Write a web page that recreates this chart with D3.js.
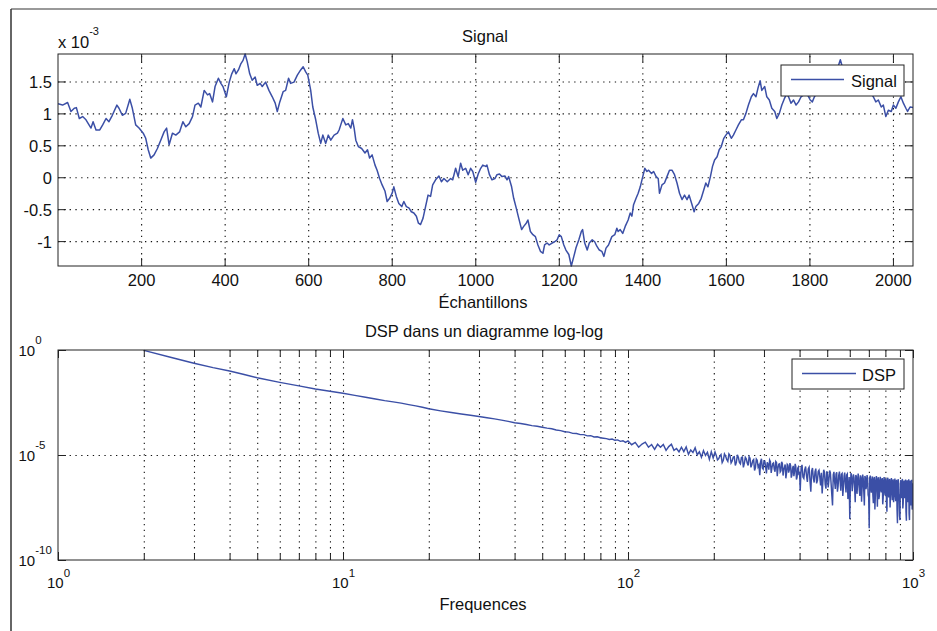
<!DOCTYPE html>
<html><head><meta charset="utf-8">
<script src="https://cdn.jsdelivr.net/npm/d3@7"></script>
<style>
body{margin:0;background:#fff;}
svg{display:block;font-family:"Liberation Sans",Arial,Helvetica,sans-serif;}
</style></head><body>
<svg id="chart" width="937" height="631"></svg>
<script>
// ---------- data ----------
const signalTitle = "Signal";
const signalXLabel = "Échantillons";
const signalLegend = "Signal";
const signalXTicks = [200,400,600,800,1000,1200,1400,1600,1800,2000];
const signalYTicks = [-1,-0.5,0,0.5,1,1.5];
const signalExponent = "-3";
// [sample index, value x 10^-3]
const signal = [
[1,1.15],[12,1.13],[24,1.17],[32,1.03],[40,1.08],[45,1.09],[52,0.92],[60,0.95],[68,0.90],[80,0.77],[85,0.87],[92,0.74],[101,0.74],[108,0.82],[116,0.92],[123,0.87],[131,0.97],[142,1.13],[147,1.08],[155,0.97],[163,1.0],[173,1.22],[179,1.08],[187,0.82],[195,0.77],[205,0.69],[211,0.61],[217,0.43],[223,0.30],[231,0.35],[239,0.45],[247,0.58],[255,0.71],[261,0.77],[267,0.51],[275,0.69],[283,0.66],[292,0.71],[300,0.87],[307,0.79],[315,0.84],[323,0.95],[329,1.13],[337,1.16],[343,1.10],[351,1.36],[359,1.29],[364,1.31],[371,1.18],[377,1.42],[385,1.55],[391,1.47],[396,1.42],[404,1.26],[411,1.49],[417,1.62],[423,1.70],[427,1.62],[433,1.68],[439,1.78],[444,1.83],[449,1.93],[454,1.81],[460,1.62],[466,1.52],[473,1.57],[478,1.44],[485,1.47],[490,1.42],[498,1.49],[506,1.36],[514,1.26],[521,1.16],[526,1.03],[532,1.18],[540,1.34],[546,1.36],[553,1.55],[558,1.47],[566,1.49],[574,1.60],[582,1.68],[588,1.73],[594,1.65],[599,1.60],[606,1.36],[611,1.10],[618,0.90],[624,0.69],[630,0.53],[635,0.66],[642,0.53],[648,0.66],[654,0.58],[662,0.66],[670,0.69],[674,0.74],[678,0.82],[683,0.92],[690,0.82],[696,0.84],[702,0.77],[706,0.90],[710,0.77],[714,0.58],[720,0.48],[728,0.45],[736,0.38],[742,0.43],[747,0.30],[753,0.35],[760,0.19],[765,0.11],[771,-0.02],[777,-0.12],[784,-0.22],[789,-0.38],[795,-0.33],[801,-0.25],[805,-0.15],[811,-0.30],[817,-0.41],[824,-0.46],[829,-0.38],[835,-0.46],[841,-0.48],[847,-0.54],[853,-0.56],[859,-0.61],[864,-0.72],[869,-0.74],[875,-0.64],[881,-0.46],[887,-0.28],[893,-0.30],[898,-0.12],[905,-0.04],[913,0.02],[919,-0.07],[925,-0.02],[933,-0.07],[941,-0.02],[946,-0.04],[953,0.14],[959,0.01],[965,0.22],[970,0.11],[977,0.14],[983,0.04],[989,0.14],[994,0.09],[1001,-0.08],[1007,0.05],[1013,0.14],[1018,0.19],[1025,0.17],[1028,0.19],[1034,0.04],[1040,-0.04],[1047,-0.02],[1052,0.04],[1058,0.05],[1064,0.01],[1071,0.02],[1076,-0.04],[1080,0.01],[1087,-0.15],[1092,-0.33],[1098,-0.48],[1104,-0.64],[1111,-0.82],[1116,-0.77],[1122,-0.72],[1126,-0.67],[1132,-0.85],[1138,-0.90],[1144,-0.93],[1150,-1.06],[1156,-1.16],[1162,-1.19],[1166,-1.06],[1172,-1.03],[1177,-1.06],[1184,-1.03],[1190,-1.01],[1196,-0.98],[1201,-0.90],[1206,-0.93],[1212,-1.06],[1217,-1.14],[1224,-1.21],[1230,-1.39],[1236,-1.24],[1241,-1.11],[1248,-0.98],[1254,-0.85],[1257,-0.82],[1262,-1.03],[1268,-1.14],[1273,-1.03],[1280,-0.98],[1286,-1.01],[1291,-1.08],[1297,-1.14],[1303,-1.16],[1308,-1.24],[1313,-1.11],[1319,-1.06],[1327,-0.93],[1334,-0.90],[1339,-0.80],[1342,-0.85],[1347,-0.82],[1353,-0.88],[1359,-0.77],[1366,-0.67],[1371,-0.56],[1375,-0.61],[1379,-0.43],[1385,-0.33],[1390,-0.25],[1395,-0.15],[1401,0.01],[1406,0.14],[1411,0.09],[1415,0.11],[1422,0.06],[1427,0.09],[1433,0.01],[1438,-0.02],[1441,-0.25],[1447,-0.12],[1453,-0.09],[1459,0.01],[1465,0.11],[1471,0.11],[1477,0.04],[1483,-0.09],[1489,-0.25],[1495,-0.35],[1501,-0.28],[1507,-0.35],[1512,-0.28],[1519,-0.43],[1524,-0.54],[1528,-0.46],[1535,-0.41],[1541,-0.33],[1547,-0.20],[1552,-0.09],[1557,-0.15],[1563,0.01],[1568,0.17],[1573,0.27],[1579,0.32],[1584,0.43],[1589,0.48],[1595,0.61],[1600,0.66],[1606,0.71],[1613,0.61],[1618,0.66],[1624,0.74],[1630,0.82],[1637,0.90],[1642,0.90],[1648,1.0],[1654,1.13],[1661,1.26],[1666,1.31],[1672,1.26],[1677,1.40],[1682,1.51],[1686,1.36],[1693,1.42],[1698,1.26],[1704,1.21],[1710,1.08],[1717,1.03],[1722,0.92],[1728,1.0],[1734,1.13],[1740,1.23],[1746,1.31],[1750,1.26],[1756,1.16],[1762,1.21],[1768,1.13],[1774,1.18],[1780,1.26],[1786,1.29],[1794,1.31],[1802,1.21],[1807,1.18],[1812,1.26],[1820,1.35],[1830,1.45],[1840,1.40],[1850,1.55],[1860,1.65],[1868,1.72],[1874,1.84],[1880,1.70],[1890,1.62],[1900,1.58],[1910,1.52],[1920,1.50],[1930,1.44],[1940,1.38],[1948,1.32],[1953,1.26],[1959,1.18],[1965,1.21],[1972,1.10],[1977,1.13],[1983,0.95],[1989,1.05],[1996,1.03],[2001,1.13],[2007,1.08],[2013,1.18],[2019,1.26],[2025,1.16],[2031,1.08],[2035,1.03],[2041,1.10],[2048,1.09]
];

const dspTitle = "DSP dans un diagramme log-log";
const dspXLabel = "Frequences";
const dspLegend = "DSP";
const dspXDomain = [1,1000];
const dspYDomain = [1e-10,1];
const dspXMajorTicks = [1,10,100,1000];
const dspYTicks = [1e-10,1e-5,1];
// [frequency, log10(PSD)]
const dspLow = [
[2,-0.02],[2.5,-0.36],[3,-0.63],[3.5,-0.84],[4,-1.0],[4.5,-1.17],[5,-1.32],[6,-1.54],[7,-1.71],[8,-1.86],[9,-1.96],[10,-2.06],[11,-2.16],[12,-2.25],[13,-2.33],[14,-2.41],[15,-2.47],[16,-2.53],[17,-2.6],[18,-2.66],[19,-2.73],[20,-2.8],[22,-2.9],[24,-2.98],[26,-3.05],[28,-3.11],[30,-3.17],[32,-3.23],[34,-3.28],[36,-3.34],[38,-3.40],[40,-3.46],[42,-3.5],[44,-3.55],[46,-3.6],[48,-3.63],[50,-3.68],[52,-3.72],[54,-3.75],[56,-3.81],[58,-3.84],[60,-3.89],[62,-3.91],[64,-3.97],[66,-3.98],[68,-4.03],[70,-4.03],[72,-4.09],[74,-4.08],[76,-4.14],[78,-4.13],[80,-4.18],[82,-4.2],[84,-4.22],[86,-4.26],[88,-4.24],[90,-4.3],[92,-4.28],[94,-4.35],[96,-4.32],[98,-4.4]
];
const dspMid = [
[100,-4.33],[103,-4.51],[106,-4.40],[109,-4.63],[112,-4.48],[115,-4.39],[118,-4.63],[121,-4.50],[124,-4.73],[127,-4.49],[130,-4.63],[133,-4.50],[136,-4.78],[139,-4.60],[142,-4.49],[145,-4.78],[148,-4.69],[151,-4.85],[154,-4.63],[157,-4.84],[160,-4.62],[163,-4.97],[166,-4.76],[169,-4.88],[172,-4.66],[175,-4.99],[178,-4.85],[181,-5.11],[184,-4.79],[187,-5.02],[190,-4.87],[193,-5.21],[196,-4.84],[199,-5.14],
[202,-4.86],[206,-5.23],[210,-5.05],[214,-5.36],[218,-4.95],[222,-5.21],[226,-4.95],[230,-5.38],[234,-5.10],[238,-5.50],[242,-4.99],[246,-5.35],[250,-5.12],[254,-5.59],[258,-5.11],[262,-5.38],[266,-5.08],[270,-5.59],[274,-5.27],[278,-5.74],[282,-5.19],[286,-5.57],[290,-5.96],[294,-5.18],[298,-5.67],[302,-5.29],[306,-5.88],[310,-5.44],[314,-5.24],[318,-5.85],[322,-5.41],[326,-5.68],[330,-5.31],[334,-6.01],[338,-5.44],[342,-5.81],[346,-5.32],[350,-5.98],[354,-5.58],[358,-6.11],[362,-5.44],[366,-5.84],[370,-5.39],[374,-6.08],[378,-5.63],[382,-6.01],[386,-5.42],[390,-6.17],[394,-5.63],[398,-5.96]
];
const dspMid2 = [
[204,-5.02],[208,-5.18],[212,-4.98],[216,-5.25],[220,-5.05],[224,-5.30],[228,-5.02],[232,-5.28],[236,-5.08],[240,-5.35],[244,-5.12],[248,-5.42],[252,-5.10],[256,-5.40],[260,-5.18],[264,-5.50],[268,-5.15],[272,-5.45],[276,-5.22],[280,-5.60],[284,-5.25],[288,-5.48],[292,-5.30],[296,-5.62],[300,-5.28],[304,-5.55],[308,-5.35],[312,-5.70],[316,-5.32],[320,-5.60],[324,-5.38],[328,-5.80],[332,-5.36],[336,-5.62],[340,-5.42],[344,-5.75],[348,-5.40],[352,-5.70],[356,-5.45],[360,-5.85],[364,-5.48],[368,-5.72],[372,-5.50],[376,-5.95],[380,-5.52],[384,-5.78],[388,-5.55],[392,-6.05],[396,-5.58],[400,-5.80]
];
const dspHigh = [
[402,-6.70],[408,-5.47],[414,-6.12],[420,-5.55],[426,-6.28],[432,-5.58],[438,-6.75],[444,-5.62],[450,-6.31],[456,-5.65],[462,-6.22],[468,-5.72],[474,-6.45],[480,-6.83],[486,-5.70],[492,-6.40],[498,-5.78],[504,-6.55],[510,-5.74],[516,-6.36],[522,-7.40],[528,-5.80],[534,-6.62],[540,-5.82],[546,-6.48],[552,-5.79],[558,-6.70],[564,-5.88],[570,-6.55],[576,-5.84],[582,-6.78],[588,-5.90],[594,-6.60],[600,-8.05],[606,-5.86],[612,-6.72],[618,-5.92],[624,-6.58],[630,-5.95],[636,-6.85],[642,-5.88],[648,-6.66],[654,-5.97],[660,-7.22],[666,-5.93],[672,-6.75],[678,-6.00],[684,-6.62],[690,-5.96],[696,-6.90],[702,-8.49],[708,-5.98],[714,-6.80],[720,-6.02],[726,-7.30],[732,-6.05],[738,-6.88],[744,-6.00],[750,-7.46],[756,-6.06],[762,-6.95],[768,-6.04],[774,-6.78],[780,-6.10],[786,-7.05],[792,-6.05],[798,-6.92],[804,-6.12],[810,-7.70],[816,-6.08],[822,-7.02],[828,-6.14],[834,-6.88],[840,-6.10],[846,-7.15],[852,-6.16],[858,-6.95],[864,-6.12],[870,-7.20],[876,-6.18],[882,-8.25],[888,-6.15],[894,-7.10],[900,-8.10],[906,-6.20],[912,-7.05],[918,-6.14],[924,-7.30],[930,-6.22],[936,-7.00],[942,-6.17],[948,-8.13],[954,-6.20],[960,-7.25],[966,-6.16],[972,-8.10],[978,-6.22],[984,-7.40],[990,-6.18],[996,-7.10],[1000,-6.35]
];
const dspHigh2 = [
[405,-5.62],[411,-6.05],[417,-5.70],[423,-5.98],[429,-5.66],[435,-6.20],[441,-5.75],[447,-6.10],[453,-5.80],[459,-6.35],[465,-5.78],[471,-6.05],[477,-5.85],[483,-6.25],[489,-5.82],[495,-6.60],[501,-5.90],[507,-6.18],[513,-5.85],[519,-6.90],[525,-5.95],[531,-6.30],[537,-5.90],[543,-6.75],[549,-5.96],[555,-6.25],[561,-5.92],[567,-6.95],[573,-6.00],[579,-6.35],[585,-5.95],[591,-7.10],[597,-6.05],[603,-6.45],[609,-6.00],[615,-6.30],[621,-6.08],[627,-7.25],[633,-6.02],[639,-6.40],[645,-6.10],[651,-6.95],[657,-6.05],[663,-6.50],[669,-6.12],[675,-7.40],[681,-6.08],[687,-6.45],[693,-6.15],[699,-7.00],[705,-6.10],[711,-6.55],[717,-6.18],[723,-6.90],[729,-6.12],[735,-7.60],[741,-6.20],[747,-6.60],[753,-6.15],[759,-7.10],[765,-6.22],[771,-6.65],[777,-6.18],[783,-7.35],[789,-6.25],[795,-6.70],[801,-6.20],[807,-7.20],[813,-6.28],[819,-6.75],[825,-6.22],[831,-7.50],[837,-6.30],[843,-6.80],[849,-6.25],[855,-7.25],[861,-6.32],[867,-6.85],[873,-6.28],[879,-7.60],[885,-6.35],[891,-6.90],[897,-7.90],[903,-6.38],[909,-6.95],[915,-6.30],[921,-7.55],[927,-6.40],[933,-7.05],[939,-6.35],[945,-7.70],[951,-6.42],[957,-7.10],[963,-6.38],[969,-7.80],[975,-6.45],[981,-7.15],[987,-6.40],[993,-7.60],[999,-6.45]
];

// ---------- drawing ----------
const LINE_COLOR = "#3b4fa6";
const FONT = 16.5;
const svg = d3.select("#chart");

// figure frame
svg.append("line").attr("x1",11).attr("y1",9).attr("x2",937).attr("y2",9).attr("stroke","#777").attr("stroke-width",1.5);
svg.append("line").attr("x1",11).attr("y1",9).attr("x2",11).attr("y2",631).attr("stroke","#333").attr("stroke-width",1.5);

function txt(x,y,s,anchor){
  return svg.append("text").attr("x",x).attr("y",y).attr("text-anchor",anchor||"middle")
    .attr("font-size",FONT).attr("fill","#111").text(s);
}
function cleanAxis(g){
  g.attr("font-family",null).attr("font-size",FONT);
  g.select(".domain").remove();
  g.selectAll(".tick line").attr("stroke","#222");
  g.selectAll(".tick text").attr("fill","#111");
}
function gridAxis(g){
  g.attr("font-family",null);
  g.select(".domain").remove();
  g.selectAll(".tick line").attr("stroke","#111").attr("stroke-width",1.1).attr("stroke-dasharray","1.3,4.5");
  g.selectAll(".tick text").remove();
}

// ===== top subplot =====
const p1 = {left:58,right:913,top:54,bottom:266};
const x1 = d3.scaleLinear().domain([1,2048]).range([p1.left,p1.right]);
const y1 = d3.scaleLinear().domain(d3.extent(signal,d=>d[1])).range([p1.bottom,p1.top]);
const h1 = p1.bottom-p1.top, w1 = p1.right-p1.left;

svg.append("rect").attr("x",p1.left).attr("y",p1.top).attr("width",w1).attr("height",h1).attr("fill","#fff");
svg.append("g").attr("transform",`translate(0,${p1.bottom})`)
  .call(d3.axisBottom(x1).tickValues(signalXTicks).tickSize(-h1).tickFormat("")).call(gridAxis);
svg.append("g").attr("transform",`translate(${p1.left},0)`)
  .call(d3.axisLeft(y1).tickValues(signalYTicks).tickSize(-w1).tickFormat("")).call(gridAxis);

svg.append("clipPath").attr("id","clip1").append("rect").attr("x",p1.left).attr("y",p1.top-1).attr("width",w1).attr("height",h1+2);
svg.append("path").datum(signal).attr("clip-path","url(#clip1)")
  .attr("fill","none").attr("stroke",LINE_COLOR).attr("stroke-width",1.5).attr("stroke-linejoin","round")
  .attr("d",d3.line().x(d=>x1(d[0])).y(d=>y1(d[1])));

// ticks
const gx1 = svg.append("g").attr("transform",`translate(0,${p1.bottom})`)
  .call(d3.axisBottom(x1).tickValues(signalXTicks).tickSize(-8).tickFormat(d3.format("d"))).call(cleanAxis);
gx1.selectAll(".tick text").attr("y",20).attr("dy",null);
svg.append("g").attr("transform",`translate(0,${p1.top})`)
  .call(d3.axisTop(x1).tickValues(signalXTicks).tickSize(-8).tickFormat("")).call(cleanAxis);
const gy1 = svg.append("g").attr("transform",`translate(${p1.left},0)`)
  .call(d3.axisLeft(y1).tickValues(signalYTicks).tickSize(-8).tickPadding(6).tickFormat(d=>String(d))).call(cleanAxis);
gy1.selectAll(".tick text").attr("dy","0.36em");
svg.append("g").attr("transform",`translate(${p1.right},0)`)
  .call(d3.axisRight(y1).tickValues(signalYTicks).tickSize(-8).tickFormat("")).call(cleanAxis);
svg.append("rect").attr("x",p1.left).attr("y",p1.top).attr("width",w1).attr("height",h1)
  .attr("fill","none").attr("stroke","#222").attr("stroke-width",1);

// exponent label
const ex = txt(p1.left,47.5,"x 10","start");
ex.append("tspan").attr("dy",-12.5).attr("font-size",11).text(signalExponent);
txt(485,42,signalTitle);
txt(483,308,signalXLabel);

// legend
const lg1 = svg.append("g");
lg1.append("rect").attr("x",781).attr("y",65).attr("width",123).attr("height",31).attr("fill","#fff").attr("stroke","#222").attr("stroke-width",1);
lg1.append("line").attr("x1",791).attr("x2",844).attr("y1",79.5).attr("y2",79.5).attr("stroke",LINE_COLOR).attr("stroke-width",1.5);
lg1.append("text").attr("x",851).attr("y",87).attr("font-size",FONT).attr("fill","#111").text(signalLegend);

// ===== bottom subplot =====
const p2 = {left:58,right:913,top:350,bottom:560};
const x2 = d3.scaleLog().domain(dspXDomain).range([p2.left,p2.right]);
const y2 = d3.scaleLog().domain(dspYDomain).range([p2.bottom,p2.top]);
const h2 = p2.bottom-p2.top, w2 = p2.right-p2.left;
const xAllTicks = x2.ticks();
const xGridTicks = xAllTicks.filter(d=>d>dspXDomain[0] && d<dspXDomain[1]);
const isMajor = d => dspXMajorTicks.includes(d);

svg.append("rect").attr("x",p2.left).attr("y",p2.top).attr("width",w2).attr("height",h2).attr("fill","#fff");
svg.append("g").attr("transform",`translate(0,${p2.bottom})`)
  .call(d3.axisBottom(x2).tickValues(xGridTicks).tickSize(-h2).tickFormat("")).call(gridAxis);
svg.append("g").attr("transform",`translate(${p2.left},0)`)
  .call(d3.axisLeft(y2).tickValues([1e-5]).tickSize(-w2).tickFormat("")).call(gridAxis);

const dsp = dspLow.concat(dspMid, dspMid2, dspHigh, dspHigh2)
  .sort((a,b)=>a[0]-b[0])
  .map(d=>[d[0], Math.pow(10,d[1])]);
svg.append("clipPath").attr("id","clip2").append("rect").attr("x",p2.left).attr("y",p2.top-1).attr("width",w2).attr("height",h2+2);
svg.append("path").datum(dsp).attr("clip-path","url(#clip2)")
  .attr("fill","none").attr("stroke",LINE_COLOR).attr("stroke-width",1.45).attr("stroke-linejoin","miter")
  .attr("d",d3.line().x(d=>x2(d[0])).y(d=>y2(d[1])));

// x ticks (major longer, minor shorter), both edges
function xTicksLog(pos, top){
  svg.append("g").attr("transform",`translate(0,${pos})`)
    .call((top?d3.axisTop(x2):d3.axisBottom(x2)).tickValues(dspXMajorTicks).tickSize(-8).tickFormat("")).call(cleanAxis);
  svg.append("g").attr("transform",`translate(0,${pos})`)
    .call((top?d3.axisTop(x2):d3.axisBottom(x2)).tickValues(xAllTicks.filter(d=>!isMajor(d))).tickSize(-6).tickFormat("")).call(cleanAxis);
}
xTicksLog(p2.top,true);
xTicksLog(p2.bottom,false);
const gx2 = svg.append("g").attr("transform",`translate(0,${p2.bottom})`)
  .call(d3.axisBottom(x2).tickValues(dspXMajorTicks).tickSize(0).tickFormat("")).call(cleanAxis);
gx2.selectAll(".tick text").each(function(d){
  const t = d3.select(this).attr("y",28).attr("dy",null).attr("font-size",15);
  t.text(null);
  t.append("tspan").text("10");
  t.append("tspan").attr("dy",-11).attr("font-size",11.5).text(Math.round(Math.log10(d)));
});
gx2.selectAll(".tick line").remove();

const gy2 = svg.append("g").attr("transform",`translate(${p2.left},0)`)
  .call(d3.axisLeft(y2).tickValues(dspYTicks).tickSize(-8).tickFormat("")).call(cleanAxis);
gy2.selectAll(".tick text").each(function(d){
  const t = d3.select(this).attr("x",-39.5).attr("text-anchor","start").attr("dy","0.36em").attr("font-size",15);
  t.text(null);
  t.append("tspan").text("10");
  t.append("tspan").attr("dy",-11.5).attr("font-size",11.5).text(Math.round(Math.log10(d)));
});
svg.append("g").attr("transform",`translate(${p2.right},0)`)
  .call(d3.axisRight(y2).tickValues(dspYTicks).tickSize(-8).tickFormat("")).call(cleanAxis);
svg.append("rect").attr("x",p2.left).attr("y",p2.top).attr("width",w2).attr("height",h2)
  .attr("fill","none").attr("stroke","#222").attr("stroke-width",1);

txt(484,336.5,dspTitle);
txt(483,610,dspXLabel);

const lg2 = svg.append("g");
lg2.append("rect").attr("x",792).attr("y",359).attr("width",112).attr("height",30).attr("fill","#fff").attr("stroke","#222").attr("stroke-width",1);
lg2.append("line").attr("x1",802).attr("x2",856).attr("y1",373.5).attr("y2",373.5).attr("stroke",LINE_COLOR).attr("stroke-width",1.5);
lg2.append("text").attr("x",862).attr("y",381).attr("font-size",FONT).attr("fill","#111").text(dspLegend);
</script>
</body></html>
